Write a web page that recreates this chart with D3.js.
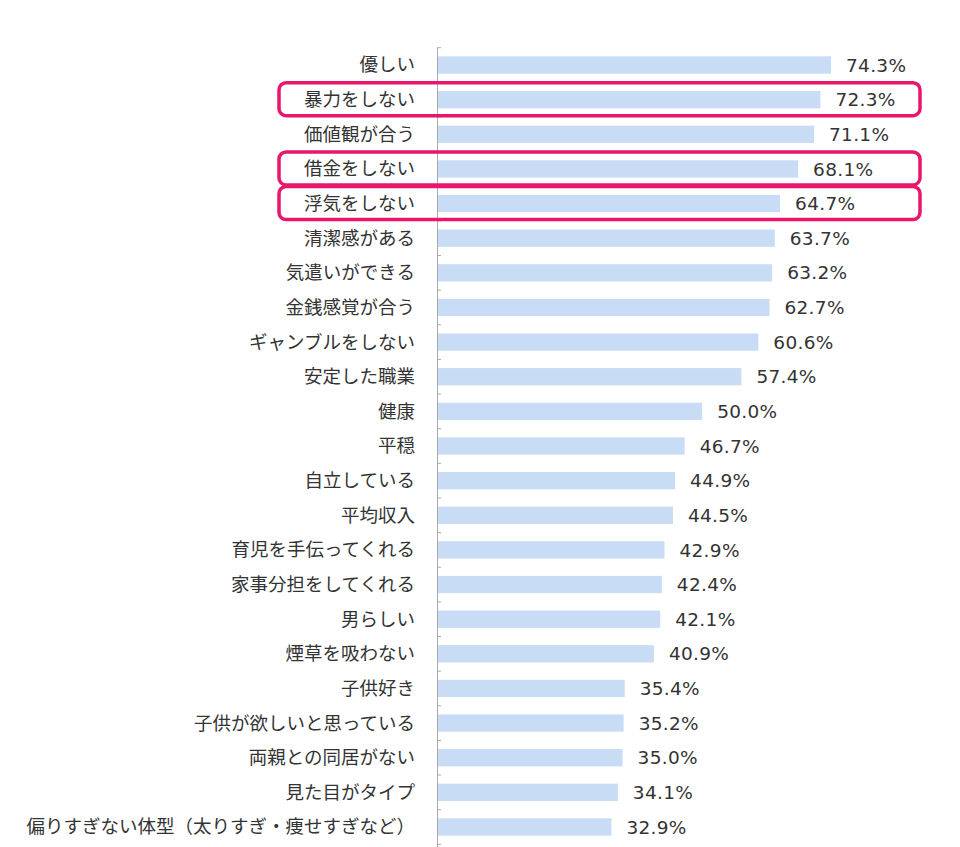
<!DOCTYPE html>
<html><head><meta charset="utf-8">
<script src="https://cdn.jsdelivr.net/npm/d3@7"></script>
<style>body{margin:0;background:#fff}</style>
</head><body>
<svg id="c" width="960" height="847"></svg>
<script>
const categories = ["優しい","暴力をしない","価値観が合う","借金をしない","浮気をしない","清潔感がある","気遣いができる","金銭感覚が合う","ギャンブルをしない","安定した職業","健康","平穏","自立している","平均収入","育児を手伝ってくれる","家事分担をしてくれる","男らしい","煙草を吸わない","子供好き","子供が欲しいと思っている","両親との同居がない","見た目がタイプ","偏りすぎない体型（太りすぎ・痩せすぎなど）"];
const values = [74.3,72.3,71.1,68.1,64.7,63.7,63.2,62.7,60.6,57.4,50.0,46.7,44.9,44.5,42.9,42.4,42.1,40.9,35.4,35.2,35.0,34.1,32.9];
const highlighted = ["暴力をしない","借金をしない","浮気をしない"];

const svg = d3.select("#c");
const x0 = 437;
const x = d3.scaleLinear().domain([0, 74.3]).range([x0, 831]);
const y = d3.scaleBand().domain(categories).range([47.7, 844.3]).paddingInner(0.5).paddingOuter(0.25);
const yb = d3.scaleBand().domain(categories).range([47.7, 844.3]);

svg.append("g").selectAll("rect").data(values).join("rect")
  .attr("x", x0).attr("y", (d,i)=>y(categories[i]))
  .attr("width", d=>x(d)-x0).attr("height", y.bandwidth())
  .attr("fill", "#c9dcf5");

svg.append("line").attr("x1", x0+0.5).attr("x2", x0+0.5).attr("y1", 47.7).attr("y2", 847)
  .attr("stroke", "#aaa").attr("stroke-width", 1);
svg.append("g").selectAll("line").data(d3.range(categories.length+1)).join("line")
  .attr("x1", x0).attr("x2", x0+4)
  .attr("y1", i=>47.7 + i*yb.step()).attr("y2", i=>47.7 + i*yb.step())
  .attr("stroke", "#aaa");

svg.append("g").selectAll("text").data(categories).join("text")
  .attr("x", 415).attr("y", d=>yb(d)+yb.bandwidth()/2)
  .attr("dy", "0.35em").attr("text-anchor", "end")
  .attr("font-family", "'Noto Sans CJK JP'").attr("font-size", 18.5)
  .attr("fill", "#333").text(d=>d);

svg.append("g").selectAll("text").data(values).join("text")
  .attr("x", d=>x(d)+15).attr("y", (d,i)=>yb(categories[i])+yb.bandwidth()/2)
  .attr("dy", "0.36em")
  .attr("font-family", "'DejaVu Sans'").attr("font-size", 18.5)
  .attr("letter-spacing", 0.3)
  .attr("fill", "#333").text(d=>d.toFixed(1)+"%");

svg.append("g").selectAll("rect").data(highlighted).join("rect")
  .attr("x", 279).attr("width", 641)
  .attr("y", d=>yb(d)+yb.bandwidth()/2-17).attr("height", 33)
  .attr("rx", 7).attr("fill", "none")
  .attr("stroke", "#e8176c").attr("stroke-width", 3.5);
</script>
</body></html>
